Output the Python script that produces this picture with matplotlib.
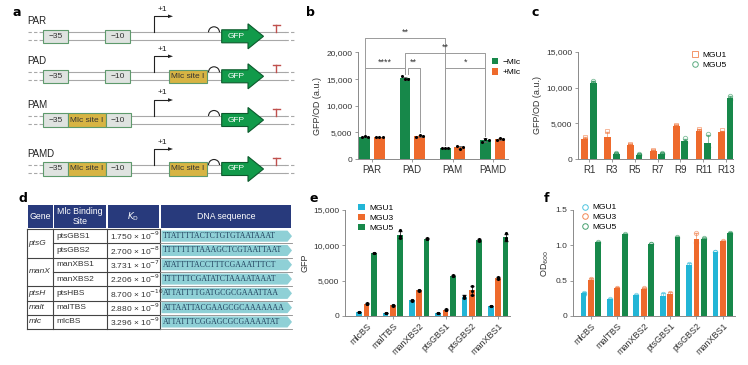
import numpy as np
import matplotlib.pyplot as plt
from matplotlib.patches import Rectangle, Polygon, Arc

plt.rcParams['font.family'] = ['Liberation Sans', 'DejaVu Sans']
plt.rcParams['font.size'] = 6
plt.rcParams['axes.edgecolor'] = '#8a8a8a'
plt.rcParams['axes.linewidth'] = 0.7
for a in ['xtick', 'ytick']:
    plt.rcParams[a + '.color'] = '#8a8a8a'
    plt.rcParams[a + '.labelcolor'] = '#333333'
    plt.rcParams[a + '.major.size'] = 2
    plt.rcParams[a + '.major.width'] = 0.6
    plt.rcParams[a + '.major.pad'] = 2
    plt.rcParams[a + '.labelsize'] = 6

GREEN = '#17884a'
ORANGE = '#ee6a2c'
CYAN = '#22b5d6'
NAVY = '#283a7c'
W, H = 748, 365

# ---- panel a: promoter constructs ----
constructs = ['PAR', 'PAD', 'PAM', 'PAMD']
construct_parts = [
    [('−35', 42.7, 67.7), ('−10', 105, 130)],
    [('−35', 42.7, 67.7), ('−10', 105, 130), ('Mlc site I', 169, 207)],
    [('−35', 42.7, 67.7), ('Mlc site I', 67.7, 105.7), ('−10', 105.7, 130.7)],
    [('−35', 42.7, 67.7), ('Mlc site I', 67.7, 105.7), ('−10', 105.7, 130.7), ('Mlc site I', 169, 207)],
]

# ---- panel b ----
b_names = ['PAR', 'PAD', 'PAM', 'PAMD']
b_minus = [[4150, 4250, 4200], [15500, 14950, 15100], [2050, 2100, 2150], [3200, 3800, 3650]]
b_plus = [[4050, 4150, 4100], [4200, 4550, 4400], [2450, 1900, 2200], [3500, 3850, 3700]]
# (group, side, group, side, height, label)
b_brackets = [(0, -1, 2, -1, 22780, '**'),
              (1, -1, 3, -1, 19850, '**'),
              (0, -1, 1, -1, 17150, '****'),
              (1, -1, 1, 1, 17150, '**'),
              (2, -1, 3, -1, 17150, '*')]

# ---- panel c ----
c_names = ['R1', 'R3', 'R5', 'R7', 'R9', 'R11', 'R13']
c_mgu1 = [[2650, 2700, 3050], [2700, 2750, 3900], [1850, 1950, 2050], [1050, 1100, 1200],
          [4500, 4600, 4700], [3800, 3900, 4250], [3600, 3700, 4000]]
c_mgu5 = [[10500, 10600, 10900], [650, 750, 850], [500, 600, 650], [650, 700, 800],
          [2300, 2400, 2900], [1700, 1700, 3500], [8300, 8400, 8800]]

# ---- panel d ----
d_genes = ['ptsG', 'manX', 'ptsH', 'malt', 'mlc']
d_gene_rows = [2, 2, 1, 1, 1]
d_sites = ['ptsGBS1', 'ptsGBS2', 'manXBS1', 'manXBS2', 'ptsHBS', 'malTBS', 'mlcBS']
d_kd_mant = ['1.750', '2.700', '3.731', '2.206', '8.700', '2.880', '3.296']
d_kd_exp = [-9, -8, -7, -9, -10, -9, -9]
d_seqs = ['TTATTTTACTCTGTGTAATAAAT', 'TTTTTTTTAAAGCTCGTAATTAAT', 'ATATTTTACCTTTCGAAATTTCT',
          'TTTTTTCGATATCTAAAATAAAT', 'ATTATTTTGATGCGCGAAATTAA', 'ATTAATTACGAAGCGCAAAAAAA',
          'ATTATTTCGGAGCGCGAAAATAT']

# ---- panels e, f ----
ef_names = ['mlcBS', 'malTBS', 'manXBS2', 'ptsGBS1', 'ptsGBS2', 'manXBS1']
e_mgu1 = [[520, 580, 550], [400, 450, 420], [2200, 2300, 2150], [400, 450, 420], [2500, 2900, 2750], [1350, 1450, 1400]]
e_mgu3 = [[1700, 1800, 1750], [1480, 1550, 1500], [3550, 3700, 3650], [850, 950, 900], [4300, 3600, 3000], [5300, 5450, 5380]]
e_mgu5 = [[8900, 8950, 8900], [12100, 11300, 11100], [10900, 11000, 10950], [5700, 5750, 5680], [10900, 10600, 10700], [11700, 11000, 10700]]
f_mgu1 = [[0.31, 0.33], [0.23, 0.24], [0.29, 0.30], [0.26, 0.31], [0.70, 0.74], [0.90, 0.91]]
f_mgu3 = [[0.50, 0.53], [0.38, 0.40], [0.38, 0.39], [0.28, 0.33], [1.04, 1.18, 1.05], [1.05, 1.06]]
f_mgu5 = [[1.04, 1.05], [1.15, 1.16], [1.02, 1.02], [1.11, 1.12], [1.09, 1.10], [1.16, 1.18]]

fig = plt.figure(figsize=(W / 100, H / 100), dpi=100)

# overlay axes in pixel units for the schematic and the table
ax0 = fig.add_axes([0, 0, 1, 1])
ax0.set_xlim(0, W)
ax0.set_ylim(H, 0)
ax0.axis('off')

row_y = [36.3, 76.3, 120, 169]
for name, yc, parts in zip(constructs, row_y, construct_parts):
    ax0.text(27, yc - 15, name, fontsize=7, va='center', ha='left', color='#222')
    for dy in (-4, 4):
        ax0.plot([40, 285], [yc + dy] * 2, color='#a8a8a8', lw=0.8, zorder=1)
        ax0.plot([28, 40], [yc + dy] * 2, color='#a8a8a8', lw=0.8, ls=(0, (3, 2)), zorder=1)
        ax0.plot([285, 294], [yc + dy] * 2, color='#a8a8a8', lw=0.8, ls=(0, (3, 2)), zorder=1)
    for lab, x0, x1 in parts:
        fc = '#d7b443' if lab.startswith('Mlc') else '#dfe3e0'
        ax0.add_patch(Rectangle((x0, yc - 6.8), x1 - x0, 13.6, fc=fc, ec='#5e9a6c', lw=0.8, zorder=2))
        ax0.text((x0 + x1) / 2, yc, lab, fontsize=6, ha='center', va='center', color='#333', zorder=3)
    # promoter +1 arrow
    ax0.plot([154.3, 154.3, 169], [yc - 4, yc - 20, yc - 20], color='#222', lw=0.8, zorder=2)
    ax0.add_patch(Polygon([[168, yc - 21.8], [173, yc - 20], [168, yc - 18.2]], color='#222', lw=0, zorder=2))
    ax0.text(162, yc - 27, '+1', fontsize=6, ha='center', va='center', color='#222')
    # RBS hump
    ax0.add_patch(Arc((214, yc - 4), 11, 11, theta1=180, theta2=360, color='#222', lw=0.8, zorder=2))
    # GFP arrow
    ax0.add_patch(Polygon([[221.7, yc - 6.5], [248, yc - 6.5], [248, yc - 12.5], [263.5, yc],
                           [248, yc + 12.5], [248, yc + 6.5], [221.7, yc + 6.5]],
                          fc='#119a4a', ec='#0b5a2c', lw=0.8, zorder=3))
    ax0.text(236, yc, 'GFP', fontsize=6, color='white', ha='center', va='center', zorder=4)
    # terminator
    ax0.plot([276.5, 276.5], [yc - 4, yc - 11.5], color='#c0504d', lw=1, zorder=2)
    ax0.plot([273, 280], [yc - 11.5, yc - 11.5], color='#c0504d', lw=1, zorder=2)

# table d
cols = [27, 53.5, 107, 160, 292]
hdr_top, hdr_bot = 205, 228
row_h = 14.3
headers = ['Gene', 'Mlc Binding\nSite', '$K_\\mathrm{D}$', 'DNA sequence']
for i, hd in enumerate(headers):
    ax0.add_patch(Rectangle((cols[i] + 0.6, hdr_top), cols[i + 1] - cols[i] - 1.2, hdr_bot - hdr_top,
                            fc=NAVY, ec='none'))
    ax0.text((cols[i] + cols[i + 1]) / 2, (hdr_top + hdr_bot) / 2, hd, color='white', fontsize=6.3,
             ha='center', va='center', linespacing=1.0)
body_top = hdr_bot + 1
n = len(d_sites)
body_bot = body_top + n * row_h
line_c = '#444444'
ax0.plot([cols[0], cols[0]], [body_top, body_bot], color=line_c, lw=0.8)
for c in cols[1:4]:
    ax0.plot([c, c], [body_top, body_bot], color=line_c, lw=0.8)
ax0.plot([cols[0], cols[3]], [body_top, body_top], color=line_c, lw=0.8)
ax0.plot([cols[0], cols[3]], [body_bot, body_bot], color=line_c, lw=0.8)
ax0.plot([cols[3], cols[4]], [body_bot, body_bot], color='#888', lw=0.6)
r = 0
for g, k in zip(d_genes, d_gene_rows):
    y0 = body_top + r * row_h
    ax0.text(cols[0] + 1.5, y0 + k * row_h / 2, g, style='italic', fontsize=6, ha='left', va='center', color='#333')
    if r > 0:
        ax0.plot([cols[0], cols[1]], [y0, y0], color=line_c, lw=0.8)
    r += k
for i in range(n):
    y0 = body_top + i * row_h
    if i > 0:
        ax0.plot([cols[1], cols[3]], [y0, y0], color=line_c, lw=0.8)
        ax0.plot([cols[3], cols[4]], [y0, y0], color='#888', lw=0.6)
    ym = y0 + row_h / 2
    ax0.text(cols[1] + 3, ym, d_sites[i], fontsize=6, ha='left', va='center', color='#333')
    ax0.text(cols[2] + 3, ym, '%s × 10$^{%d}$' % (d_kd_mant[i], d_kd_exp[i]), fontsize=6,
             ha='left', va='center', color='#333')
    ax0.add_patch(Polygon([[cols[3] + 1.5, y0 + 1.6], [cols[4] - 4.5, y0 + 1.6], [cols[4], ym],
                           [cols[4] - 4.5, y0 + row_h - 1.6], [cols[3] + 1.5, y0 + row_h - 1.6]],
                          fc='#8fd0d6', ec='none', zorder=2))
    ax0.text(cols[3] + 3, ym, d_seqs[i], fontsize=5.6, family='Liberation Serif', ha='left',
             va='center', color='#1f3f5c', zorder=3)


def ticks_fmt(ax, vals):
    ax.set_yticks(vals)
    ax.set_yticklabels(['{:,.0f}'.format(v) for v in vals])


def style(ax):
    ax.spines['top'].set_visible(False)
    ax.spines['right'].set_visible(False)


# ---- b ----
axb = fig.add_axes([358 / W, 1 - 159 / H, 150 / W, 106.5 / H])
style(axb)
xb = np.arange(len(b_names))
off_b = 0.18
for reps, side, col, lab in [(b_minus, -1, GREEN, '−Mlc'), (b_plus, 1, ORANGE, '+Mlc')]:
    m = [np.mean(v) for v in reps]
    s = [np.std(v, ddof=1) for v in reps]
    axb.bar(xb + side * off_b, m, 0.27, color=col, label=lab, zorder=2)
    axb.errorbar(xb + side * off_b, m, yerr=s, fmt='none', ecolor='#666', elinewidth=0.6,
                 capsize=1.5, capthick=0.6, zorder=3)
    for xi, v in zip(xb + side * off_b, reps):
        axb.scatter(xi + np.array([-0.08, 0.0, 0.08]), v, s=5, color='black', lw=0, zorder=4)
allb = {-1: b_minus, 1: b_plus}
for g1, s1, g2, s2, hgt, lab in b_brackets:
    x1 = g1 + s1 * off_b
    x2 = g2 + s2 * off_b
    if g1 == g2:
        x1 += 0.07
    y1 = max(allb[s1][g1]) + 500
    y2 = max(allb[s2][g2]) + 500
    axb.plot([x1, x1, x2, x2], [y1, hgt, hgt, y2], color='#9a9a9a', lw=0.7, clip_on=False, zorder=1)
    axb.text((x1 + x2) / 2, hgt + 250, lab, ha='center', va='bottom', fontsize=6.5, color='#333')
axb.set_xlim(-0.35, 3.38)
axb.set_ylim(0, 20000)
ticks_fmt(axb, [0, 5000, 10000, 15000, 20000])
axb.set_xticks(xb)
axb.set_xticklabels(b_names, fontsize=7)
axb.set_ylabel('GFP/OD (a.u.)', fontsize=6.5, color='#333', labelpad=3)
axb.legend(loc='upper left', bbox_to_anchor=(0.89, 0.95), frameon=False, handlelength=0.8,
           handleheight=0.8, handletextpad=0.5, labelspacing=0.3, borderpad=0, borderaxespad=0, fontsize=6)

# ---- c ----
axc = fig.add_axes([578 / W, 1 - 159 / H, 155 / W, 107 / H])
style(axc)
xc = np.arange(len(c_names))
for reps, side, col, mk, lab in [(c_mgu1, -1, ORANGE, 's', 'MGU1'), (c_mgu5, 1, GREEN, 'o', 'MGU5')]:
    m = [np.mean(v) for v in reps]
    s = [np.std(v, ddof=1) for v in reps]
    xs = xc + side * 0.19
    axc.bar(xs, m, 0.3, color=col, zorder=2)
    axc.errorbar(xs, m, yerr=s, fmt='none', ecolor=col, alpha=0.6, elinewidth=0.6, capsize=1.2, zorder=3)
    for xi, v in zip(xs, reps):
        axc.plot([xi] * len(v), v, ls='none', marker=mk, ms=3.2, mfc='none', mec=col, mew=0.6,
                 alpha=0.55, zorder=4)
    axc.plot([], [], ls='none', marker=mk, ms=4, mfc='none', mec=col, mew=0.7, alpha=0.7, label=lab)
axc.set_xlim(-0.48, 6.3)
axc.set_ylim(0, 15000)
ticks_fmt(axc, [0, 5000, 10000, 15000])
axc.set_xticks(xc)
axc.set_xticklabels(c_names, fontsize=7)
axc.set_ylabel('GFP/OD (a.u.)', fontsize=6.5, color='#333', labelpad=3)
axc.legend(loc='upper left', bbox_to_anchor=(0.73, 1.01), frameon=False, handlelength=1.0,
           handletextpad=0.4, labelspacing=0.3, borderpad=0, borderaxespad=0, fontsize=6)

# ---- e ----
axe = fig.add_axes([345 / W, 1 - 316 / H, 165 / W, 106 / H])
style(axe)
xe = np.arange(len(ef_names))
for reps, side, col, lab in [(e_mgu1, -1, CYAN, 'MGU1'), (e_mgu3, 0, ORANGE, 'MGU3'), (e_mgu5, 1, GREEN, 'MGU5')]:
    m = [np.mean(v) for v in reps]
    s = [np.std(v, ddof=1) for v in reps]
    xs = xe + side * 0.28
    axe.bar(xs, m, 0.22, color=col, label=lab, zorder=2)
    axe.errorbar(xs, m, yerr=s, fmt='none', ecolor='#222', elinewidth=0.6, capsize=1.2, zorder=3)
    for xi, v in zip(xs, reps):
        axe.scatter([xi] * len(v), v, s=5, color='black', lw=0, zorder=4)
axe.set_xlim(-0.82, 5.45)
axe.set_ylim(0, 15000)
ticks_fmt(axe, [0, 5000, 10000, 15000])
axe.set_xticks(xe)
axe.set_xticklabels(ef_names, rotation=45, ha='right', rotation_mode='anchor', fontsize=6.5)
axe.set_ylabel('GFP', fontsize=6.5, color='#333', labelpad=3)
axe.legend(loc='upper left', bbox_to_anchor=(0.08, 1.06), frameon=False, handlelength=0.8,
           handleheight=0.8, handletextpad=0.5, labelspacing=0.25, borderpad=0, borderaxespad=0, fontsize=6)

# ---- f ----
axf = fig.add_axes([573 / W, 1 - 316 / H, 162 / W, 106 / H])
style(axf)
for reps, side, col, lab in [(f_mgu1, -1, CYAN, 'MGU1'), (f_mgu3, 0, ORANGE, 'MGU3'), (f_mgu5, 1, GREEN, 'MGU5')]:
    m = [np.mean(v) for v in reps]
    s = [np.std(v, ddof=1) for v in reps]
    xs = xe + side * 0.28
    axf.bar(xs, m, 0.22, color=col, zorder=2)
    axf.errorbar(xs, m, yerr=s, fmt='none', ecolor=col, alpha=0.6, elinewidth=0.6, capsize=1.2, zorder=3)
    for xi, v in zip(xs, reps):
        axf.plot([xi] * len(v), v, ls='none', marker='o', ms=3.2, mfc='none', mec=col, mew=0.6,
                 alpha=0.55, zorder=4)
    axf.plot([], [], ls='none', marker='o', ms=4, mfc='none', mec=col, mew=0.7, alpha=0.8, label=lab)
axf.set_xlim(-0.68, 5.46)
axf.set_ylim(0, 1.5)
axf.set_yticks([0, 0.5, 1.0, 1.5])
axf.set_yticklabels(['0', '0.5', '1.0', '1.5'])
axf.set_xticks(xe)
axf.set_xticklabels(ef_names, rotation=45, ha='right', rotation_mode='anchor', fontsize=6.5)
axf.set_ylabel('OD$_{600}$', fontsize=6.5, color='#333', labelpad=3)
axf.legend(loc='upper left', bbox_to_anchor=(0.05, 1.06), frameon=False, handlelength=1.0,
           handletextpad=0.4, labelspacing=0.25, borderpad=0, borderaxespad=0, fontsize=6)

# panel letters
for lab, px, py in [('a', 17, 13), ('b', 310, 13), ('c', 535, 13), ('d', 23, 198), ('e', 314, 199), ('f', 547, 199)]:
    fig.text(px / W, 1 - py / H, lab, fontsize=9, fontweight='bold', ha='center', va='center',
             family='DejaVu Sans')

fig.savefig('out.png', dpi=100)
